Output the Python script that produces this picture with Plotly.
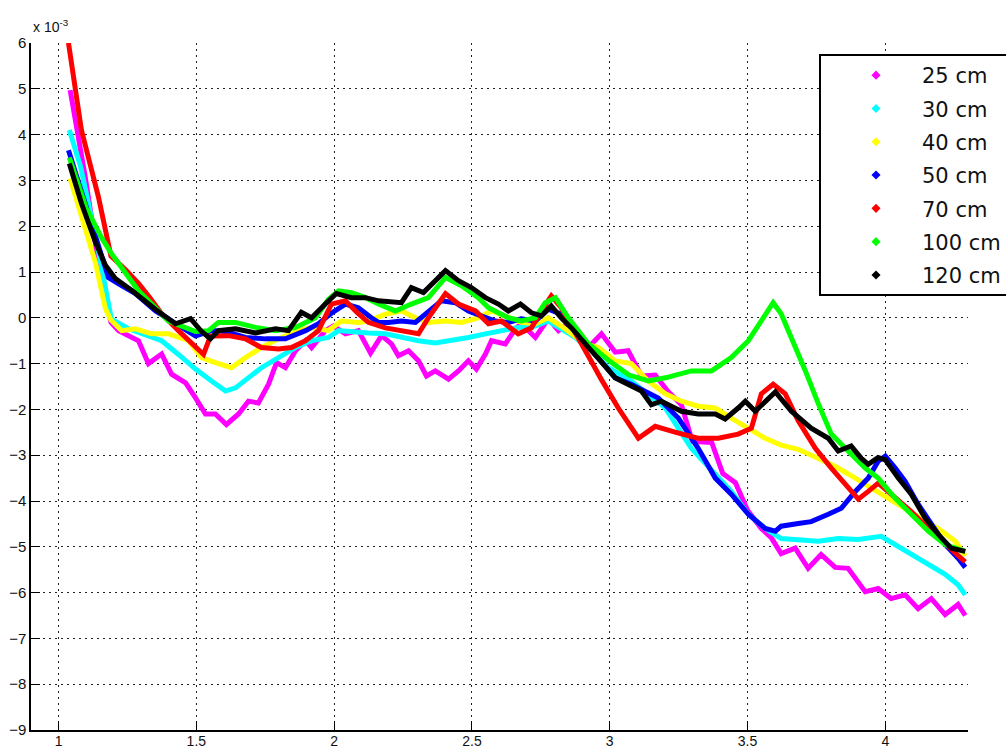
import plotly.graph_objects as go

# Series readings (y in units of 1e-3)
labels = ["25 cm", "30 cm", "40 cm", "50 cm", "70 cm", "100 cm", "120 cm"]
colors = ["#FF00FF", "#00FFFF", "#FFFF00", "#0000FF", "#FF0000", "#00FF00", "#000000"]

x_25 = [1.042, 1.097, 1.145, 1.190, 1.218, 1.254, 1.290, 1.326, 1.374, 1.410, 1.461, 1.497, 1.533, 1.569,
        1.609, 1.653, 1.689, 1.725, 1.762, 1.791, 1.823, 1.860, 1.896, 1.918, 1.968, 1.997, 2.041, 2.088,
        2.132, 2.172, 2.208, 2.233, 2.270, 2.306, 2.335, 2.367, 2.415, 2.451, 2.487, 2.516, 2.549, 2.571,
        2.621, 2.658, 2.679, 2.730, 2.777, 2.814, 2.850, 2.886, 2.922, 2.970, 3.020, 3.067, 3.115, 3.165,
        3.210, 3.260, 3.300, 3.370, 3.410, 3.456, 3.500, 3.550, 3.586, 3.622, 3.673, 3.720, 3.767, 3.818,
        3.865, 3.927, 3.974, 4.021, 4.072, 4.119, 4.167, 4.217, 4.264, 4.290]
y_25 = [4.97, 3.07, 1.18, -0.10, -0.28, -0.39, -0.50, -1.00, -0.79, -1.23, -1.42, -1.75, -2.10, -2.10,
        -2.33, -2.10, -1.82, -1.86, -1.45, -0.98, -1.09, -0.72, -0.50, -0.65, -0.28, -0.18, -0.35, -0.28,
        -0.77, -0.39, -0.57, -0.83, -0.72, -0.94, -1.27, -1.16, -1.34, -1.16, -0.94, -1.12, -0.79, -0.50,
        -0.57, -0.24, -0.13, -0.43, -0.02, -0.28, -0.13, -0.28, -0.65, -0.35, -0.75, -0.72, -1.27, -1.25,
        -1.60, -1.90, -2.70, -2.72, -3.40, -3.60, -4.20, -4.60, -4.80, -5.15, -5.03, -5.47, -5.17, -5.45,
        -5.47, -5.98, -5.91, -6.13, -6.05, -6.35, -6.13, -6.48, -6.26, -6.50]

x_30 = [1.039, 1.080, 1.140, 1.192, 1.254, 1.301, 1.374, 1.435, 1.497, 1.555, 1.606, 1.642, 1.689, 1.736,
        1.798, 1.860, 1.918, 1.979, 2.016, 2.088, 2.124, 2.186, 2.244, 2.306, 2.367, 2.425, 2.487, 2.549,
        2.607, 2.668, 2.730, 2.777, 2.824, 2.875, 2.933, 2.995, 3.078, 3.202, 3.296, 3.383, 3.441, 3.503,
        3.564, 3.622, 3.684, 3.757, 3.829, 3.902, 3.985, 4.036, 4.094, 4.156, 4.217, 4.264, 4.290]
y_30 = [4.10, 3.30, 1.60, -0.03, -0.24, -0.35, -0.50, -0.80, -1.12, -1.38, -1.60, -1.53, -1.31, -1.09,
        -0.87, -0.65, -0.50, -0.43, -0.28, -0.33, -0.33, -0.35, -0.43, -0.50, -0.55, -0.50, -0.43, -0.35,
        -0.28, -0.21, -0.18, -0.07, -0.24, -0.43, -0.72, -1.09, -1.38, -1.97, -2.85, -3.42, -3.79, -4.29,
        -4.60, -4.82, -4.84, -4.88, -4.82, -4.84, -4.77, -4.95, -5.17, -5.39, -5.60, -5.83, -6.05]

x_40 = [1.042, 1.083, 1.134, 1.170, 1.190, 1.229, 1.279, 1.337, 1.399, 1.472, 1.519, 1.569, 1.627, 1.678,
        1.736, 1.798, 1.871, 1.918, 1.979, 2.026, 2.088, 2.124, 2.186, 2.244, 2.295, 2.342, 2.404, 2.462,
        2.523, 2.571, 2.632, 2.679, 2.730, 2.777, 2.824, 2.861, 2.911, 2.959, 3.020, 3.078, 3.140, 3.202,
        3.260, 3.321, 3.383, 3.441, 3.503, 3.564, 3.622, 3.684, 3.757, 3.829, 3.891, 3.949, 4.011, 4.072,
        4.130, 4.192, 4.254, 4.290]
y_40 = [3.04, 2.20, 1.20, 0.20, -0.05, -0.28, -0.24, -0.35, -0.35, -0.50, -0.87, -0.98, -1.09, -0.87,
        -0.65, -0.46, -0.28, -0.21, -0.28, -0.07, -0.10, -0.07, 0.08, 0.15, 0.00, -0.10, -0.07, -0.10,
        0.00, 0.15, 0.00, -0.10, -0.13, 0.00, -0.18, -0.35, -0.57, -0.65, -0.94, -1.00, -1.38, -1.66,
        -1.82, -1.93, -1.97, -2.19, -2.41, -2.63, -2.78, -2.87, -3.07, -3.28, -3.50, -3.72, -3.94, -4.16,
        -4.38, -4.60, -4.88, -5.20]

x_50 = [1.036, 1.080, 1.130, 1.181, 1.218, 1.279, 1.352, 1.424, 1.497, 1.555, 1.606, 1.678, 1.751, 1.823,
        1.896, 1.943, 1.990, 2.041, 2.088, 2.135, 2.161, 2.197, 2.244, 2.295, 2.342, 2.389, 2.440, 2.487,
        2.534, 2.585, 2.632, 2.679, 2.730, 2.777, 2.824, 2.875, 2.922, 2.959, 3.020, 3.078, 3.176, 3.249,
        3.321, 3.383, 3.441, 3.503, 3.564, 3.601, 3.622, 3.684, 3.731, 3.793, 3.840, 3.891, 3.938, 3.974,
        4.000, 4.036, 4.072, 4.119, 4.167, 4.217, 4.264, 4.290]
y_50 = [3.66, 2.80, 1.80, 0.88, 0.74, 0.53, 0.15, -0.13, -0.40, -0.28, -0.30, -0.43, -0.46, -0.46,
        -0.28, -0.13, 0.10, 0.30, 0.22, 0.00, -0.10, -0.10, -0.07, -0.10, 0.15, 0.37, 0.33, 0.15,
        0.04, -0.07, -0.10, -0.02, -0.07, 0.19, 0.08, -0.28, -0.65, -0.87, -1.31, -1.45, -1.75, -2.19,
        -2.85, -3.50, -3.85, -4.29, -4.60, -4.66, -4.55, -4.49, -4.45, -4.29, -4.16, -3.79, -3.50, -3.13,
        -3.02, -3.28, -3.57, -4.07, -4.51, -4.95, -5.25, -5.45]

x_70 = [1.036, 1.083, 1.145, 1.190, 1.243, 1.290, 1.330, 1.374, 1.435, 1.497, 1.526, 1.551, 1.617, 1.678,
        1.736, 1.798, 1.845, 1.896, 1.943, 1.990, 2.041, 2.088, 2.124, 2.186, 2.244, 2.306, 2.342, 2.404,
        2.451, 2.513, 2.560, 2.607, 2.668, 2.716, 2.752, 2.788, 2.824, 2.875, 2.933, 2.970, 3.031, 3.104,
        3.165, 3.240, 3.320, 3.394, 3.466, 3.514, 3.550, 3.593, 3.637, 3.684, 3.746, 3.804, 3.865, 3.902,
        3.938, 3.974, 4.021, 4.094, 4.156, 4.217, 4.275, 4.290]
y_70 = [6.00, 4.10, 2.63, 1.35, 1.05, 0.75, 0.45, 0.09, -0.28, -0.65, -0.80, -0.40, -0.39, -0.46,
        -0.65, -0.68, -0.65, -0.50, -0.28, 0.30, 0.37, 0.09, -0.10, -0.22, -0.28, -0.35, 0.00, 0.53,
        0.30, 0.15, -0.13, -0.07, -0.35, -0.22, 0.15, 0.48, 0.22, -0.35, -0.95, -1.35, -1.97, -2.63,
        -2.37, -2.50, -2.63, -2.63, -2.54, -2.41, -1.66, -1.45, -1.66, -2.25, -2.85, -3.28, -3.72, -3.96,
        -3.79, -3.61, -3.85, -4.23, -4.60, -4.95, -5.25, -5.33]

x_100 = [1.039, 1.100, 1.156, 1.192, 1.290, 1.399, 1.497, 1.544, 1.580, 1.642, 1.715, 1.787, 1.860, 1.932,
         1.979, 2.016, 2.063, 2.114, 2.161, 2.222, 2.280, 2.342, 2.404, 2.462, 2.523, 2.560, 2.632, 2.679,
         2.730, 2.766, 2.803, 2.850, 2.920, 3.000, 3.070, 3.140, 3.202, 3.296, 3.369, 3.441, 3.503, 3.564,
         3.593, 3.622, 3.659, 3.710, 3.757, 3.804, 3.855, 3.927, 3.974, 4.036, 4.094, 4.156, 4.217, 4.290]
y_100 = [3.50, 2.40, 1.75, 1.40, 0.59, -0.07, -0.30, -0.28, -0.10, -0.10, -0.21, -0.28, -0.21, 0.00,
         0.40, 0.59, 0.55, 0.44, 0.30, 0.15, 0.30, 0.44, 0.88, 0.70, 0.44, 0.22, 0.00, -0.07,
         0.00, 0.33, 0.44, 0.00, -0.55, -0.95, -1.25, -1.38, -1.31, -1.16, -1.16, -0.87, -0.50, 0.09,
         0.33, 0.09, -0.43, -1.16, -1.88, -2.54, -2.85, -3.28, -3.50, -3.94, -4.29, -4.66, -4.95, -5.10]

x_120 = [1.039, 1.083, 1.134, 1.170, 1.207, 1.265, 1.352, 1.424, 1.479, 1.519, 1.551, 1.580, 1.642, 1.715,
         1.787, 1.834, 1.881, 1.918, 1.968, 2.008, 2.063, 2.114, 2.161, 2.208, 2.244, 2.280, 2.324, 2.367,
         2.404, 2.451, 2.498, 2.549, 2.596, 2.632, 2.676, 2.716, 2.752, 2.788, 2.824, 2.861, 2.911, 2.970,
         3.020, 3.042, 3.115, 3.151, 3.187, 3.260, 3.321, 3.383, 3.419, 3.466, 3.492, 3.528, 3.601, 3.659,
         3.731, 3.793, 3.829, 3.876, 3.913, 3.938, 3.974, 4.000, 4.047, 4.094, 4.145, 4.192, 4.239, 4.290]
y_120 = [3.37, 2.50, 1.65, 1.15, 0.85, 0.60, 0.18, -0.13, -0.02, -0.30, -0.46, -0.28, -0.24, -0.33,
         -0.24, -0.28, 0.12, 0.00, 0.30, 0.53, 0.44, 0.44, 0.37, 0.35, 0.33, 0.66, 0.55, 0.81,
         1.03, 0.81, 0.66, 0.44, 0.30, 0.15, 0.30, 0.11, 0.04, 0.26, 0.00, -0.22, -0.57, -1.00,
         -1.31, -1.38, -1.60, -1.90, -1.82, -2.04, -2.10, -2.10, -2.21, -1.97, -1.82, -2.04, -1.62, -2.04,
         -2.41, -2.63, -2.91, -2.80, -3.07, -3.20, -3.05, -3.10, -3.50, -3.85, -4.38, -4.73, -5.03, -5.10]

series_x = [x_25, x_30, x_40, x_50, x_70, x_100, x_120]
series_y = [y_25, y_30, y_40, y_50, y_70, y_100, y_120]

x_ticks = [1, 1.5, 2, 2.5, 3, 3.5, 4]
x_tick_text = ["1", "1.5", "2", "2.5", "3", "3.5", "4"]
y_ticks = list(range(-9, 7))

W, H = 1007, 751
ML, MR, MT, MB = 31, 39, 43, 21
PW, PH = W - ML - MR, H - MT - MB


def px_x(p):
    """pixel column -> paper x"""
    return (p - ML) / PW


def px_y(p):
    """pixel row -> paper y"""
    return (H - MB - p) / PH


fig = go.Figure()

for xs, ys, c in zip(series_x, series_y, colors):
    fig.add_trace(go.Scatter(x=xs, y=ys, mode="lines", showlegend=False,
                             line=dict(color=c, width=5), hoverinfo="skip"))

# marker-only legend entries
for i, (name, c) in enumerate(zip(labels, colors)):
    fig.add_trace(go.Scatter(x=[None], y=[None], mode="markers", name=name,
                             legendgroup=str(i),
                             marker=dict(symbol="diamond", size=7, color=c)))

axis_font = dict(family="Liberation Sans, Arial, sans-serif", size=15, color="#111")
x_tick_font = dict(family="Liberation Sans, Arial, sans-serif", size=14, color="#111")

fig.update_layout(
    width=W, height=H,
    margin=dict(l=ML, r=MR, t=MT, b=MB, autoexpand=False),
    paper_bgcolor="white", plot_bgcolor="white",
    xaxis=dict(range=[0.9, 4.3], tickvals=x_ticks, ticktext=x_tick_text,
               showgrid=True, gridcolor="#222", griddash="2px,4px", gridwidth=1,
               showline=True, linecolor="black", linewidth=1.5, mirror=False,
               ticks="inside", ticklen=9, tickcolor="black", tickwidth=1,
               ticklabelstandoff=-3,
               zeroline=False, tickfont=x_tick_font),
    yaxis=dict(range=[-9, 6], tickvals=y_ticks,
               showgrid=True, gridcolor="#222", griddash="2px,4px", gridwidth=1,
               showline=True, linecolor="black", linewidth=1.5, mirror=False,
               ticks="inside", ticklen=9, tickcolor="black", tickwidth=1,
               zeroline=False, tickfont=axis_font),
    legend=dict(x=px_x(830), xanchor="left", y=px_y(55), yanchor="top",
                bgcolor="rgba(0,0,0,0)", borderwidth=0, itemwidth=82,
                traceorder="grouped", tracegroupgap=3,
                font=dict(family="DejaVu Sans, sans-serif", size=21, color="#111")),
    showlegend=True,
)

# legend frame: white panel, open on the right where the figure edge cuts it
lx0, lx1, ly0, ly1 = px_x(820), px_x(1006), px_y(295), px_y(55)
fig.add_shape(type="rect", xref="paper", yref="paper",
              x0=lx0, x1=lx1, y0=ly0, y1=ly1,
              line=dict(width=0), fillcolor="white", layer="above")
fig.add_shape(type="path", xref="paper", yref="paper",
              path=f"M {lx1},{ly1} L {lx0},{ly1} L {lx0},{ly0} L {lx1},{ly0}",
              line=dict(color="black", width=2), layer="above")

fig.add_annotation(xref="paper", yref="paper", x=0, y=1, yshift=6,
                   xanchor="left", yanchor="bottom", showarrow=False,
                   text="x 10<sup>-3</sup>",
                   font=dict(family="Liberation Sans, Arial, sans-serif", size=14, color="#111"))

fig.write_html("out.html")
